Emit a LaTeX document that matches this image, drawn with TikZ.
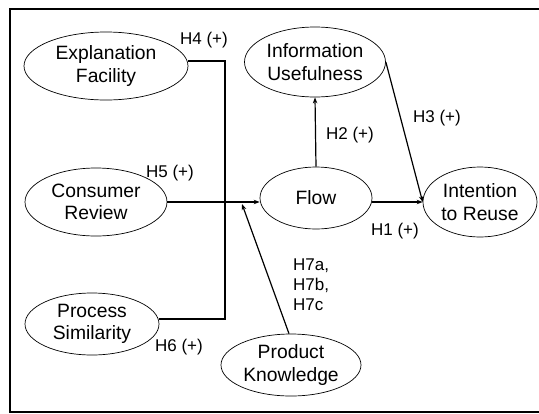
\documentclass[tikz,border=0pt]{standalone}
\usepackage{fontspec}
\setmainfont{Liberation Sans}
\usetikzlibrary{arrows.meta,shapes.geometric}
\begin{document}
\begin{tikzpicture}[x=1pt,y=-1pt,
  construct/.style={draw,ellipse,line width=0.7pt,inner sep=0pt,
    font=\fontsize{19.3}{22.5}\selectfont,align=center},
  link/.style={line width=1.2pt},
  arr/.style={link,-{Stealth[length=6pt,width=4.5pt]}},
  hyp/.style={font=\fontsize{17}{20}\selectfont,inner sep=0pt}]
\useasboundingbox (0,0) rectangle (539,413);
\begin{scope}
\clip (0,0) rectangle (539,413);
\draw[line width=2pt] (10,8.5) rectangle (560,411.5);
\end{scope}

% constructs
\node[construct,minimum width=164,minimum height=68] (ef) at (106,66) {Explanation\\Facility};
\node[construct,minimum width=142,minimum height=68] (cr) at (96,202) {Consumer\\Review};
\node[construct,minimum width=134,minimum height=62] (ps) at (92,324) {Process\\Similarity};
\node[construct,minimum width=141,minimum height=70] (iu) at (315,62) {Information\\Usefulness};
\node[construct,minimum width=112,minimum height=62] (fl) at (316,198) {Flow};
\node[construct,minimum width=114,minimum height=70] (ir) at (480,202) {Intention\\to Reuse};
\node[construct,minimum width=140,minimum height=62] (pk) at (291,365) {Product\\Knowledge};

% paths from the antecedents into Flow
\draw[link] (ef.east |- 0,61) -- (225,61) -- (225,319) -- (ps.east |- 0,319);
\draw[arr] (cr.east |- 0,202) -- (fl.west |- 0,202);
\draw[arr] (pk.north) ++(-2,0) -- (242,204);
\draw[arr] (fl.north) -- (iu.south);
\draw[arr] (fl.east |- 0,202) -- (ir.west);
\draw[arr] (iu.east) -- (ir.west);

% hypothesis labels
\node[hyp] (h4) at (204,40) {H4 (+)};
\node[hyp] (h5) at (170,173) {H5 (+)};
\node[hyp] (h6) at (179,347) {H6 (+)};
\node[hyp] (h2) at (350,135) {H2 (+)};
\node[hyp] (h3) at (437,118) {H3 (+)};
\node[hyp] (h1) at (395,231) {H1 (+)};
\node[hyp,align=left,anchor=north west] (h7) at (293,259) {H7a,\\H7b,\\H7c};
\end{tikzpicture}
\end{document}
